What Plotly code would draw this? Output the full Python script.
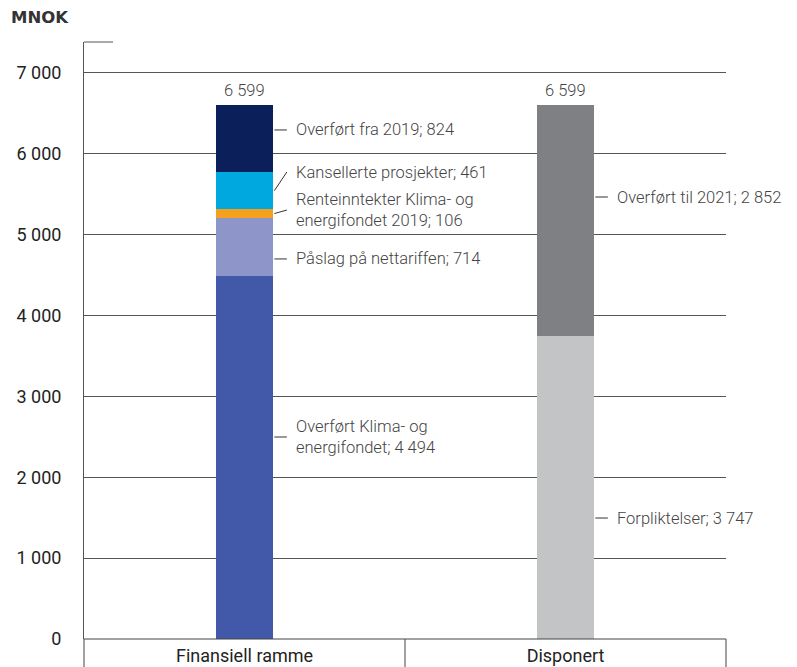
import plotly.graph_objects as go

# Categories and stacked components (MNOK)
categories = ["Finansiell ramme", "Disponert"]

fin_names = ["Overført Klima- og<br>energifondet", "Påslag på nettariffen",
             "Renteinntekter Klima- og<br>energifondet 2019", "Kansellerte prosjekter",
             "Overført fra 2019"]
fin_values = [4494, 714, 106, 461, 824]
fin_colors = ["#4159A8", "#8E96C9", "#F6A11E", "#00A8E0", "#0B1F5A"]
# label heights (MNOK) for each component of the first bar
fin_label_y = [2498, 4700, 5305, 5775, 6295]

disp_names = ["Forpliktelser", "Overført til 2021"]
disp_values = [3747, 2852]
disp_colors = ["#C3C4C6", "#7F8083"]
disp_label_y = [1496, 5466]

tick_vals = [0, 1000, 2000, 3000, 4000, 5000, 6000, 7000]
tick_text = ["0", "1 000", "2 000", "3 000", "4 000", "5 000", "6 000", "7 000"]


def fmt(v):
    return f"{v:,}".replace(",", " ")


FONT = "Roboto"
TXT = "#444444"
LABEL_FONT = dict(family=FONT, size=16.5, color=TXT, weight=300)
BAR_W = 0.18
half = BAR_W / 2
line_end = 0.132
text_x = 0.155

fig = go.Figure()
for name, val, col in zip(fin_names, fin_values, fin_colors):
    fig.add_trace(go.Bar(x=[categories[0]], y=[val], marker_color=col,
                         marker_line_width=0, width=BAR_W, name=name,
                         hoverinfo="skip"))
for name, val, col in zip(disp_names, disp_values, disp_colors):
    fig.add_trace(go.Bar(x=[categories[1]], y=[val], marker_color=col,
                         marker_line_width=0, width=BAR_W, name=name,
                         hoverinfo="skip"))

shapes = []
annotations = []
slanted = ("Kansellerte prosjekter", "Renteinntekter Klima- og<br>energifondet 2019")


def add_labels(xc, names, values, label_ys):
    base = 0
    for name, val, ly in zip(names, values, label_ys):
        mid = base + val / 2
        base += val
        # slanted leader from the segment middle for the two thin segments
        y0 = mid if name in slanted else ly
        shapes.append(dict(type="line", xref="x", yref="y",
                           x0=xc + half + 0.003, x1=xc + line_end, y0=y0, y1=ly,
                           line=dict(color="#333333", width=1)))
        annotations.append(dict(x=xc + text_x, y=ly, xref="x", yref="y",
                                text=f"{name}; {fmt(val)}", showarrow=False,
                                xanchor="left", yanchor="middle", align="left",
                                font=LABEL_FONT))
    annotations.append(dict(x=xc, y=base, xref="x", yref="y", text=fmt(base),
                            showarrow=False, xanchor="center", yanchor="bottom",
                            yshift=3, font=LABEL_FONT))


add_labels(0, fin_names, fin_values, fin_label_y)
add_labels(1, disp_names, disp_values, disp_label_y)

# unit title
annotations.append(dict(x=-75 / 642, y=1.0, xref="paper", yref="paper", yshift=25,
                        text="<b>MNOK</b>", showarrow=False, xanchor="left",
                        yanchor="middle",
                        font=dict(family="DejaVu Sans", size=16.5, color="#333333")))

# top cap of the value axis
shapes.append(dict(type="line", xref="paper", yref="paper", x0=0, x1=29 / 642,
                   y0=1, y1=1, line=dict(color="#555555", width=1)))
# category separators below the baseline
for xp in (0, 0.5, 1):
    shapes.append(dict(type="line", xref="paper", yref="paper", x0=xp, x1=xp,
                       y0=0, y1=-0.06, line=dict(color="#444444", width=1)))
shapes.append(dict(type="line", xref="paper", yref="paper", x0=0, x1=1,
                   y0=0, y1=0, line=dict(color="#444444", width=1)))

fig.update_layout(
    width=797, height=667,
    margin=dict(l=84, r=71, t=42, b=28, autoexpand=False),
    barmode="stack",
    showlegend=False,
    plot_bgcolor="white", paper_bgcolor="white",
    font=dict(family=FONT, size=16, color=TXT),
    shapes=shapes, annotations=annotations,
    xaxis=dict(range=[-0.5, 1.5], showgrid=False, showline=False, zeroline=False,
               ticks="", ticklabelstandoff=4, automargin=False,
               tickfont=dict(family=FONT, size=18, color="#222222"),
               fixedrange=True),
    yaxis=dict(range=[0, 7383], tickvals=tick_vals, ticktext=tick_text,
               showgrid=True, gridcolor="#555555", gridwidth=1,
               showline=True, linecolor="#555555", linewidth=1,
               zeroline=False, ticks="", ticklabelstandoff=18, automargin=False,
               tickfont=dict(family=FONT, size=18, color="#222222"),
               fixedrange=True),
)

fig.write_html("out.html")
